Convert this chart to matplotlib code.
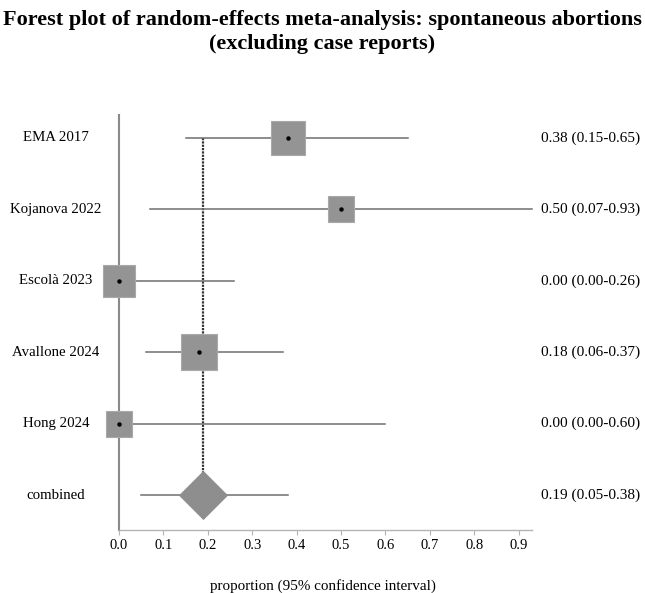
import matplotlib
matplotlib.use("Agg")
import matplotlib.pyplot as plt
import matplotlib.transforms as mtransforms
import numpy as np

studies = ["EMA 2017", "Kojanova 2022", "Escolà 2023", "Avallone 2024", "Hong 2024"]
estimates = [0.38, 0.50, 0.00, 0.18, 0.00]
lower = [0.15, 0.07, 0.00, 0.06, 0.00]
upper = [0.65, 0.93, 0.26, 0.37, 0.60]
weights = [23.9, 14.0, 21.2, 26.8, 14.0]  # relative weights (%)
combined_label = "combined"
combined_est = 0.19
combined_lower = 0.05
combined_upper = 0.38
xticks = [0.0, 0.1, 0.2, 0.3, 0.4, 0.5, 0.6, 0.7, 0.8, 0.9]

plt.rcParams['font.family'] = ['Liberation Serif', 'DejaVu Serif']

W, H, DPI = 645, 593, 100
fig = plt.figure(figsize=(W / DPI, H / DPI), dpi=DPI)

ax_left_px, ax_right_px = 95, 540
ax_top_px, ax_bot_px = 115, 530
ax = fig.add_axes([ax_left_px / W, (H - ax_bot_px) / H,
                   (ax_right_px - ax_left_px) / W, (ax_bot_px - ax_top_px) / H])

px_per_unit = 444.0
x0_px = 119
ax.set_xlim((ax_left_px - x0_px) / px_per_unit, (ax_right_px - x0_px) / px_per_unit)
row_px = 71.4
ax.set_ylim((ax_bot_px - 138) / row_px, (ax_top_px - 138) / row_px)

n = len(studies)
rows = np.arange(n)
comb_row = n

line_col = "#6f6f6f"
box_col = "#949494"
box_edge = "#a9a9a9"

# vertical line at combined estimate
ax.plot([combined_est, combined_est], [0, comb_row], color="#333333",
        lw=1.6, linestyle=(0, (1, 0.5)), zorder=2)

pt_per_px = 72.0 / DPI
total_area_px = 4828.0
for i in range(n):
    ax.plot([lower[i], upper[i]], [rows[i], rows[i]], color=line_col, lw=1.1, zorder=3)
    side_px = np.sqrt(weights[i] / 100.0 * total_area_px)
    ax.plot([estimates[i]], [rows[i]], marker="s", markersize=side_px * pt_per_px,
            markerfacecolor=box_col, markeredgecolor=box_edge, markeredgewidth=0.8,
            linestyle="none", zorder=4)
    ax.plot([estimates[i]], [rows[i]], marker="o", markersize=2.2, color="black",
            linestyle="none", zorder=5)

# combined
ax.plot([combined_lower, combined_upper], [comb_row, comb_row], color=line_col, lw=1.1, zorder=3)
diag_px = 48
ax.plot([combined_est], [comb_row], marker="D", markersize=diag_px / np.sqrt(2) * pt_per_px,
        markerfacecolor="#8e8e8e", markeredgecolor="#8e8e8e", markeredgewidth=0.6,
        linestyle="none", zorder=4)

# spines
for s in ["top", "right"]:
    ax.spines[s].set_visible(False)
ax.spines["left"].set_position(("data", 0.0))
ax.spines["left"].set_color("#8a8a8a")
ax.spines["left"].set_linewidth(1.5)
ax.spines["bottom"].set_color("#b4b4b4")
ax.spines["bottom"].set_linewidth(1.0)
ax.spines["bottom"].set_bounds(0.0, 0.93)

ax.set_yticks([])
ax.set_xticks(xticks)
ax.set_xticklabels([f"{t:.1f}" for t in xticks], fontsize=10.5)
ax.tick_params(axis="x", direction="out", length=3.5, width=0.8, color="#b4b4b4", pad=3)

# labels
trans_left = mtransforms.blended_transform_factory(fig.transFigure, ax.transData)
for i, name in enumerate(studies + [combined_label]):
    ax.text(56 / W, i, name, transform=trans_left, ha="center", va="center", fontsize=10.7)

all_est = estimates + [combined_est]
all_lo = lower + [combined_lower]
all_hi = upper + [combined_upper]
for i in range(n + 1):
    ax.text(541 / W, i, f"{all_est[i]:.2f} ({all_lo[i]:.2f}-{all_hi[i]:.2f})",
            transform=trans_left, ha="left", va="center", fontsize=11)

fig.text(0.5, 1 - 586 / H, "proportion (95% confidence interval)", ha="center", va="center",
         fontsize=10.9)
fig.text(0.5, 1 - 32 / H,
         "Forest plot of random-effects meta-analysis: spontaneous abortions\n(excluding case reports)",
         ha="center", va="center", fontsize=16, fontweight="bold", linespacing=1.25)

fig.savefig("out.png", dpi=DPI)
